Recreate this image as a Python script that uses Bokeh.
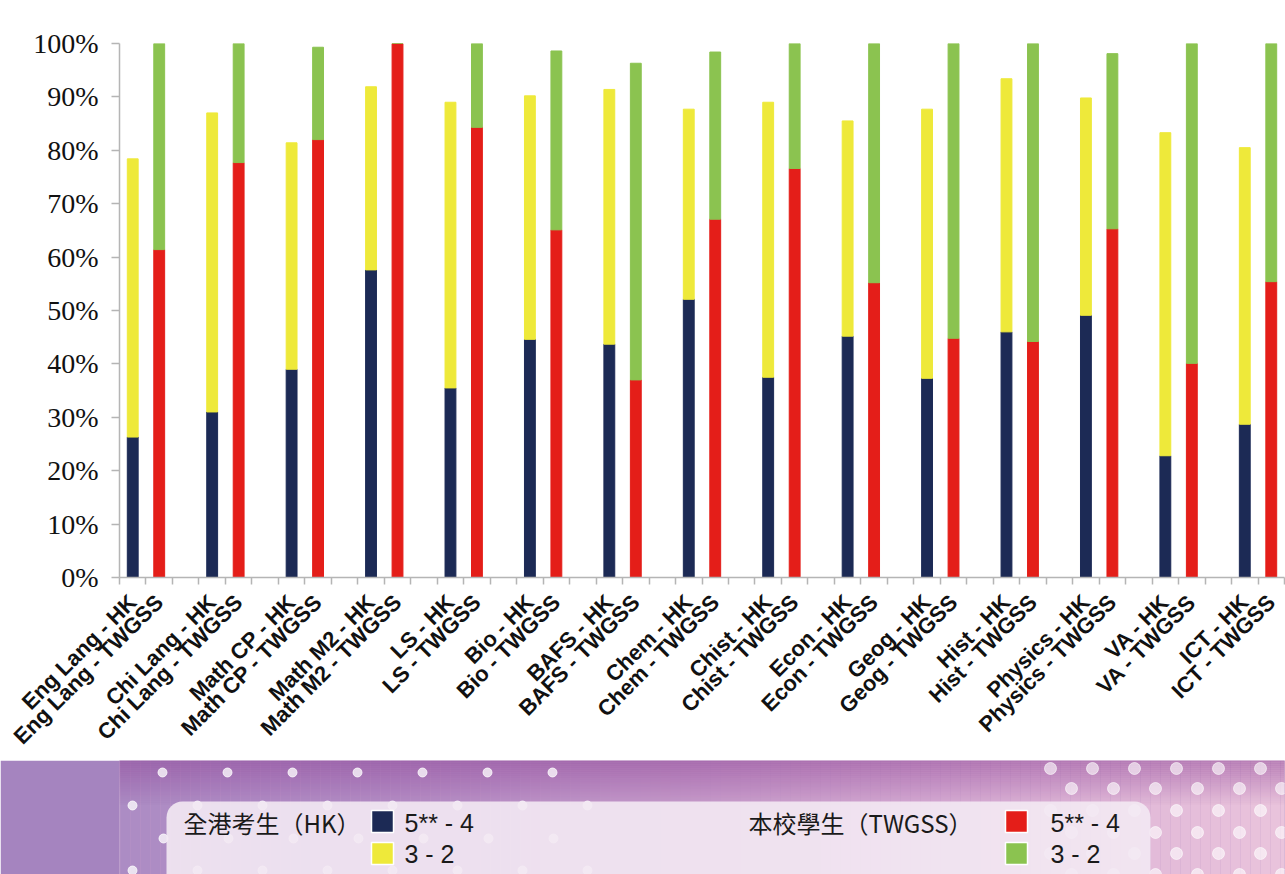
import math
from bokeh.plotting import figure
from bokeh.models import Range1d, FixedTicker, ColumnDataSource, BoxAnnotation
from bokeh.layouts import column
from bokeh.core.properties import value
from bokeh.embed import file_html
from bokeh.resources import INLINE

# ---------------- data (percent of candidates) ----------------
subjects = ["Eng Lang", "Chi Lang", "Math CP", "Math M2", "LS", "Bio", "BAFS",
            "Chem", "Chist", "Econ", "Geog", "Hist", "Physics", "VA", "ICT"]
hk_54 = [26.3, 31.0, 39.0, 57.6, 35.5, 44.6, 43.7, 52.1, 37.5, 45.2, 37.3, 46.0, 49.1, 22.8, 28.7]
hk_32 = [52.1, 56.0, 42.4, 34.3, 53.5, 45.6, 47.7, 35.6, 51.5, 40.3, 50.4, 47.4, 40.7, 60.5, 51.8]
tw_54 = [61.4, 77.7, 82.0, 100.0, 84.3, 65.1, 37.0, 67.1, 76.6, 55.2, 44.8, 44.2, 65.3, 40.1, 55.4]
tw_32 = [38.6, 22.3, 17.3, 0.0, 15.7, 33.5, 59.3, 31.3, 23.4, 44.8, 55.2, 55.8, 32.8, 59.9, 44.6]
y_ticks = [0, 10, 20, 30, 40, 50, 60, 70, 80, 90, 100]
group_suffix = ["HK", "TWGSS"]
band_labels = ["5** - 4", "3 - 2"]
group_titles = ["全港考生（HK）", "本校學生（TWGSS）"]

NAVY, YELLOW, RED, GREEN = "#1c2a55", "#eee93a", "#e41e19", "#8bc350"
AXIS_GREY = "#b5b5b5"

# slot layout: each subject uses 3 slots (HK, TWGSS, gap); each slot = 2 units
n = len(subjects)
x_hk = [6 * i + 1 for i in range(n)]
x_tw = [6 * i + 3 for i in range(n)]

src = ColumnDataSource(dict(x_hk=x_hk, x_tw=x_tw, hk_54=hk_54, hk_32=hk_32,
                            tw_54=tw_54, tw_32=tw_32))

p = figure(width=1285, height=760, x_range=Range1d(0, 88), y_range=Range1d(0, 100),
           output_backend="svg", toolbar_location=None,
           min_border_left=119, min_border_right=1, min_border_top=43, min_border_bottom=183)
p.outline_line_color = None
p.grid.visible = False
p.border_fill_color = "white"
p.background_fill_color = "white"

p.vbar_stack(["hk_54", "hk_32"], x="x_hk", width=0.82, color=[NAVY, YELLOW], source=src)
p.vbar_stack(["tw_54", "tw_32"], x="x_tw", width=0.82, color=[RED, GREEN], source=src)

# y axis
ya = p.yaxis[0]
ya.ticker = FixedTicker(ticks=y_ticks, minor_ticks=[])
ya.major_label_overrides = {t: f"{t}%" for t in y_ticks}
ya.major_label_text_font = "Liberation Serif"
ya.major_label_text_font_size = "28px"
ya.major_label_text_color = "#111111"
ya.major_label_standoff = 13
ya.major_tick_out = 8
ya.major_tick_in = 0
ya.major_tick_line_color = AXIS_GREY
ya.major_tick_line_width = 1.5
ya.axis_line_color = AXIS_GREY
ya.axis_line_width = 1.5

# x axis
xa = p.xaxis[0]
label_ticks = sorted(x_hk + x_tw)
overrides = {}
for i, s in enumerate(subjects):
    overrides[x_hk[i]] = f"{s} - {group_suffix[0]}"
    overrides[x_tw[i]] = f"{s} - {group_suffix[1]}"
xa.ticker = FixedTicker(ticks=label_ticks, minor_ticks=list(range(0, 89, 2)))
xa.major_label_overrides = overrides
xa.major_label_orientation = math.pi / 4
xa.major_label_text_font = "Liberation Sans"
xa.major_label_text_font_style = "bold"
xa.major_label_text_font_size = "22px"
xa.major_label_text_color = "#111111"
xa.major_label_standoff = 14
xa.major_tick_out = 0
xa.major_tick_in = 0
xa.minor_tick_out = 7
xa.minor_tick_in = 0
xa.minor_tick_line_color = AXIS_GREY
xa.minor_tick_line_width = 1.5
xa.axis_line_color = AXIS_GREY
xa.axis_line_width = 1.5

# ---------------- legend panel ----------------
# its frame is aligned with the chart frame (page x 119..1284), so data units = page pixels
p2 = figure(width=1285, height=114, x_range=Range1d(119, 1284), y_range=Range1d(874, 760),
            output_backend="svg", toolbar_location=None,
            x_axis_location=None, y_axis_location=None,
            min_border_left=0, min_border_right=0, min_border_top=0, min_border_bottom=0)
p2.grid.visible = False
p2.outline_line_color = None
p2.border_fill_color = "#a584bf"
p2.background_fill_color = "#c39bc8"


def hex2rgb(h):
    h = h.lstrip("#")
    return [int(h[i:i + 2], 16) for i in (0, 2, 4)]


def mix(stops, x):
    for (x0, c0), (x1, c1) in zip(stops, stops[1:]):
        if x0 <= x <= x1:
            t = (x - x0) / (x1 - x0)
            a, b = hex2rgb(c0), hex2rgb(c1)
            return "#%02x%02x%02x" % tuple(int(round(a[k] + (b[k] - a[k]) * t)) for k in range(3))
    return stops[-1][1]


# decorative background gradient
bg_stops = [(0, "#a98bc4"), (400, "#b48dc5"), (700, "#c79bca"), (1000, "#dab0d5"), (1285, "#eac4dc")]
lefts = list(range(110, 1290, 10))
p2.quad(left=lefts, right=[l + 10 for l in lefts], top=[760] * len(lefts), bottom=[874] * len(lefts),
        color=[mix(bg_stops, l + 5) for l in lefts], line_color=None, level="underlay")
band_tops = list(range(760, 804, 2))
p2.quad(left=[110] * len(band_tops), right=[1290] * len(band_tops), top=band_tops,
        bottom=[b + 2 for b in band_tops], color="#8a3f94",
        alpha=[0.5 * (1 - (b - 760) / 44) for b in band_tops], line_color=None, level="underlay")

# decorative dots
dx, dy = [], []
for r, yy in enumerate([772, 805, 838, 870]):
    start = 97 if r % 2 == 0 else 67
    if r == 2:
        start = 33
    xx = start
    while xx < 600:
        if xx > 125:
            dx.append(xx); dy.append(yy)
        xx += 65
p2.scatter(dx, dy, size=9, color="white", alpha=0.75, level="underlay")
rx, ry = [], []
for r, yy in enumerate([768, 788, 810, 832, 853, 874]):
    xx = 1050 if r % 2 == 0 else 1071
    while xx < 1290:
        rx.append(xx); ry.append(yy)
        xx += 42
p2.scatter(rx, ry, size=12, color="white", alpha=0.6, level="underlay")

legend_box = BoxAnnotation(left=166, right=1150, top=801, bottom=900,
                           fill_color="#f3e9f3", fill_alpha=0.9, line_color=None,
                           border_radius=16, level="underlay")
p2.add_layout(legend_box)

# legend swatches
sw_left = [371, 371, 1005, 1005]
sw_top = [810, 842, 810, 842]
p2.quad(left=sw_left, right=[l + 22 for l in sw_left], top=sw_top, bottom=[t + 22 for t in sw_top],
        color=[NAVY, YELLOW, RED, GREEN], line_color="white", line_width=1.5)

p2.text(x=[183, 748], y=[822, 822], text=group_titles,
        text_font=value("Noto Sans CJK TC"), text_font_size="24px",
        text_baseline="middle", text_align="left", text_color="#1a1a1a")
p2.text(x=[404, 404, 1050, 1050], y=[822, 853, 822, 853],
        text=[band_labels[0], band_labels[1], band_labels[0], band_labels[1]],
        text_font=value("Liberation Sans"), text_font_size="25px",
        text_baseline="middle", text_align="left", text_color="#1a1a1a")

layout = column(p, p2, spacing=0)
open("out.html", "w").write(file_html(layout, INLINE))
